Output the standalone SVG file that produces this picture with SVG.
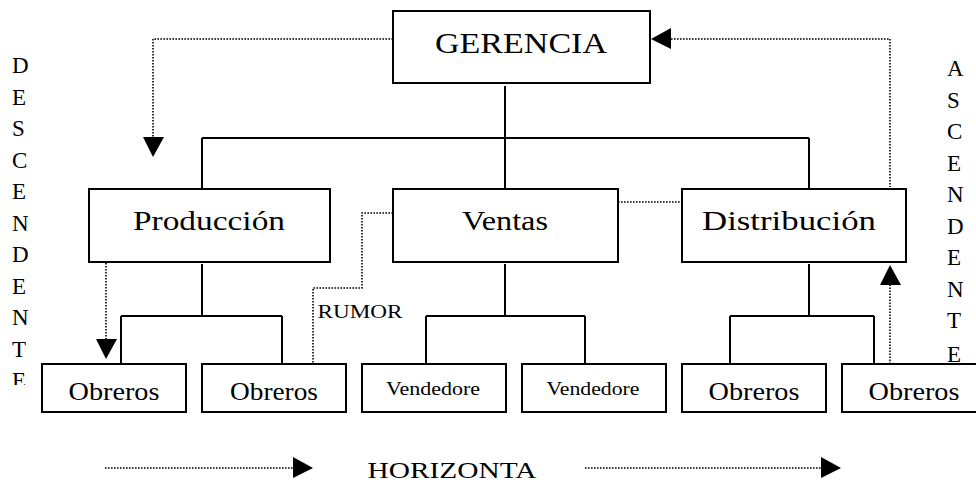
<svg xmlns="http://www.w3.org/2000/svg" width="976" height="482" viewBox="0 0 976 482">
<style>
.box{fill:#fff;stroke:#000;stroke-width:2}
.t{font-family:"Liberation Serif","Times New Roman",serif;fill:#000;text-anchor:middle}
.v{font-family:"Liberation Serif","Times New Roman",serif;fill:#000;font-size:23px}
.ln{fill:none;stroke:#000;stroke-width:2}
.dot{fill:none;stroke:#000;stroke-width:1.6;stroke-dasharray:1.6 1.4}
.ah{fill:#000}
</style>
<defs>
<clipPath id="clipL"><rect x="0" y="0" width="60" height="385"/></clipPath>
</defs>
<rect width="976" height="482" fill="#fff"/>

<g id="connectors">
<path class="ln" d="M505 86V189M202 138H809M202 138V189M809 138V189"/>
<path class="ln" d="M202 264V316M121 316H282M121 316V364M282 316V364"/>
<path class="ln" d="M505 264V316M426 316H585M426 316V364M585 316V364"/>
<path class="ln" d="M809 264V316M730 316H874M730 316V364M874 316V364"/>
<path class="dot" d="M393 39H153V138"/>
<polygon class="ah" points="143,137 164,137 153,157"/>
<path class="dot" d="M671 39H890V187"/>
<polygon class="ah" points="671,28 671,49 651,39"/>
<path class="dot" d="M618 202H682"/>
<path class="dot" d="M393 213H362V288H313V364"/>
<path class="dot" d="M106 263V340"/>
<polygon class="ah" points="96,339 117,339 106,359"/>
<path class="dot" d="M890 364V284"/>
<polygon class="ah" points="880,285 901,285 890,265"/>
<path class="dot" d="M105 468H294"/>
<polygon class="ah" points="293,457 293,478 313,468"/>
<path class="dot" d="M585 468H822"/>
<polygon class="ah" points="821,457 821,478 841,468"/>
</g>

<g id="gerencia"><rect class="box" x="393" y="11" width="257" height="72"/><text class="t" x="521" y="53" font-size="30" textLength="172" lengthAdjust="spacingAndGlyphs">GERENCIA</text></g>
<g id="produccion"><rect class="box" x="89" y="189" width="241" height="73"/><text class="t" x="209" y="230" font-size="28" textLength="152" lengthAdjust="spacingAndGlyphs">Producción</text></g>
<g id="ventas"><rect class="box" x="393" y="189" width="225" height="73"/><text class="t" x="505" y="230" font-size="28" textLength="86" lengthAdjust="spacingAndGlyphs">Ventas</text></g>
<g id="distribucion"><rect class="box" x="682" y="189" width="224" height="73"/><text class="t" x="789" y="230" font-size="28" textLength="174" lengthAdjust="spacingAndGlyphs">Distribución</text></g>

<g id="obreros1"><rect class="box" x="42" y="364" width="144" height="48"/><text class="t" x="114" y="400" font-size="26" textLength="91" lengthAdjust="spacingAndGlyphs">Obreros</text></g>
<g id="obreros2"><rect class="box" x="202" y="364" width="144" height="48"/><text class="t" x="274" y="400" font-size="26" textLength="88" lengthAdjust="spacingAndGlyphs">Obreros</text></g>
<g id="vendedores1"><rect class="box" x="362" y="364" width="144" height="48"/><text class="t" x="433" y="395" font-size="19" textLength="94" lengthAdjust="spacingAndGlyphs">Vendedore</text></g>
<g id="vendedores2"><rect class="box" x="522" y="364" width="144" height="48"/><text class="t" x="593" y="395" font-size="19" textLength="93" lengthAdjust="spacingAndGlyphs">Vendedore</text></g>
<g id="obreros3"><rect class="box" x="682" y="364" width="144" height="48"/><text class="t" x="754" y="400" font-size="26" textLength="91" lengthAdjust="spacingAndGlyphs">Obreros</text></g>
<g id="obreros4"><rect class="box" x="842" y="364" width="144" height="48"/><text class="t" x="914" y="400" font-size="26" textLength="91" lengthAdjust="spacingAndGlyphs">Obreros</text></g>

<g id="labels">
<text class="t" x="360" y="318" font-size="19" textLength="85" lengthAdjust="spacingAndGlyphs">RUMOR</text>
<text class="t" x="452" y="478" font-size="24" textLength="169" lengthAdjust="spacingAndGlyphs">HORIZONTA</text>
<g clip-path="url(#clipL)">
<text class="v" x="12" y="73">D</text>
<text class="v" x="12" y="104.5">E</text>
<text class="v" x="12" y="136">S</text>
<text class="v" x="12" y="167.5">C</text>
<text class="v" x="12" y="199">E</text>
<text class="v" x="12" y="230.5">N</text>
<text class="v" x="12" y="262">D</text>
<text class="v" x="12" y="293.5">E</text>
<text class="v" x="12" y="325">N</text>
<text class="v" x="12" y="356.5">T</text>
<text class="v" x="12" y="388">E</text>
</g>
<text class="v" x="947" y="76">A</text>
<text class="v" x="947" y="107.5">S</text>
<text class="v" x="947" y="139">C</text>
<text class="v" x="947" y="170.5">E</text>
<text class="v" x="947" y="202">N</text>
<text class="v" x="947" y="233.5">D</text>
<text class="v" x="947" y="265">E</text>
<text class="v" x="947" y="296.5">N</text>
<text class="v" x="947" y="328">T</text>
<text class="v" x="947" y="362">E</text>
</g>
</svg>
